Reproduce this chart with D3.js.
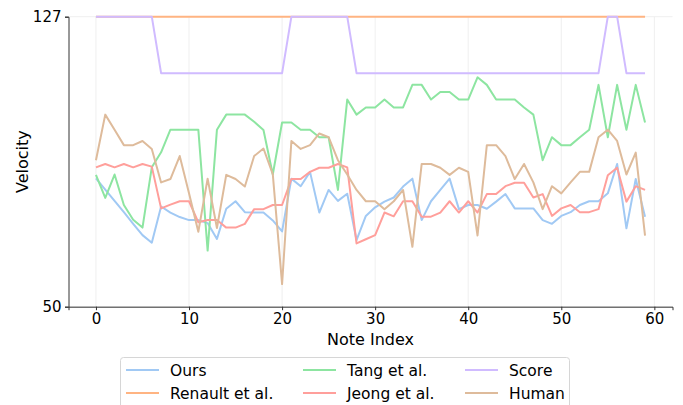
<!DOCTYPE html>
<html>
<head>
<meta charset="utf-8">
<script src="https://cdn.jsdelivr.net/npm/d3@7"></script>
<style>
  body { margin: 0; background: #fff; }
  svg { font-family: "DejaVu Sans", sans-serif; }
</style>
</head>
<body>
<div id="chart"></div>
<script>
// note velocities per method
const ours = [84.1, 81.1, 78.1, 75.1, 72.0, 69.0, 67.0, 76.6, 75.0, 73.8, 73.0, 73.0, 72.2, 68.0, 76.0, 78.0, 75.1, 75.0, 75.0, 72.9,
  70.0, 84.0, 82.0, 85.8, 75.0, 81.0, 78.1, 80.0, 67.7, 74.1, 76.4, 77.9, 79.0, 81.9, 84.0, 73.0, 78.0, 81.0, 84.0, 75.9,
  77.0, 77.0, 76.0, 77.9, 79.9, 76.1, 76.1, 76.1, 73.0, 72.0, 74.1, 75.1, 77.0, 78.0, 78.0, 80.1, 87.9, 70.8, 83.9, 73.9];
const renault = d3.range(60).map(() => 127);
const tang = [85.0, 78.9, 85.1, 77.0, 73.1, 71.0, 87.0, 91.0, 97.0, 97.0, 97.0, 97.0, 64.9, 97.0, 101.0, 101.0, 101.0, 99.1, 96.9, 85.1,
  98.9, 98.9, 97.0, 97.0, 95.0, 95.0, 81.0, 105.0, 101.0, 102.9, 102.9, 105.0, 102.9, 102.9, 108.9, 108.9, 105.0, 107.0, 107.0, 105.0,
  105.0, 110.9, 108.9, 105.0, 105.0, 105.0, 102.9, 101.0, 88.9, 95.0, 92.9, 92.9, 95.0, 97.0, 108.9, 95.0, 108.9, 97.0, 108.9, 98.9];
const jeong = [87.0, 87.9, 87.0, 87.9, 87.0, 87.9, 87.2, 76.1, 77.1, 78.0, 78.0, 72.4, 73.0, 73.0, 71.0, 71.0, 72.0, 75.9, 75.9, 77.0,
  77.0, 83.9, 83.9, 85.8, 86.9, 86.9, 87.9, 87.0, 66.8, 67.9, 69.0, 75.0, 74.0, 78.0, 78.0, 73.9, 73.9, 75.0, 78.0, 75.0,
  78.0, 75.0, 79.9, 79.9, 82.0, 82.9, 82.9, 79.0, 79.9, 74.1, 76.1, 77.0, 75.1, 75.1, 75.9, 84.9, 86.9, 77.9, 82.0, 81.0];
const score = [127, 127, 127, 127, 127, 127, 127, 112, 112, 112, 112, 112, 112, 112, 112, 112, 112, 112, 112, 112,
  112, 127, 127, 127, 127, 127, 127, 127, 112, 112, 112, 112, 112, 112, 112, 112, 112, 112, 112, 112,
  112, 112, 112, 112, 112, 112, 112, 112, 112, 112, 112, 112, 112, 112, 112, 127, 127, 112, 112, 112];
const human = [88.9, 101.0, 97.0, 92.9, 92.9, 94.0, 91.9, 83.0, 83.9, 90.0, 80.1, 69.9, 84.0, 70.9, 85.0, 83.9, 81.9, 90.0, 92.0, 85.2,
  56.0, 94.0, 91.9, 92.9, 96.0, 95.0, 88.9, 85.1, 81.0, 78.0, 78.0, 75.9, 78.0, 81.0, 65.9, 87.9, 87.9, 86.9, 85.0, 86.9,
  85.8, 68.9, 92.9, 92.9, 90.0, 83.9, 87.9, 83.0, 75.9, 82.0, 80.1, 83.0, 85.8, 85.8, 95.0, 97.0, 94.0, 85.1, 90.9, 68.9];

const seriesNames = ["Ours", "Renault et al.", "Tang et al.", "Jeong et al.", "Score", "Human"];
const seriesValues = [ours, renault, tang, jeong, score, human];
const colors = ["#a1c9f4", "#ffb482", "#8de5a1", "#ff9f9b", "#d0bbff", "#debb9b"];
const xTicks = [0, 10, 20, 30, 40, 50, 60];
const yTicks = [50, 127];

const width = 683, height = 405;
const margin = { left: 68.5, right: 10.5, top: 16.7, bottom: 98.3 };

const svg = d3.select("#chart").append("svg")
  .attr("width", width).attr("height", height);

const x = d3.scaleLinear().domain([-2.95, 61.95]).range([margin.left, width - margin.right]);
const y = d3.scaleLinear().domain([50, 127]).range([height - margin.bottom, margin.top]);

// grid
svg.append("g").selectAll("line").data(xTicks).join("line")
  .attr("x1", d => x(d)).attr("x2", d => x(d))
  .attr("y1", y(50)).attr("y2", y(127))
  .attr("stroke", "#ebebeb").attr("stroke-width", 0.8);
svg.append("g").selectAll("line").data(yTicks).join("line")
  .attr("x1", x(-2.95)).attr("x2", x(61.95))
  .attr("y1", d => y(d)).attr("y2", d => y(d))
  .attr("stroke", "#ebebeb").attr("stroke-width", 0.8);

// lines
const line = d3.line().x((d, i) => x(i)).y(d => y(d));
svg.append("g").selectAll("path").data(seriesValues).join("path")
  .attr("d", line)
  .attr("fill", "none")
  .attr("stroke", (d, i) => colors[i])
  .attr("stroke-width", 2)
  .attr("stroke-linejoin", "round");

// axes
const xAxis = svg.append("g")
  .attr("transform", `translate(0,${y(50)})`)
  .call(d3.axisBottom(x).tickValues(xTicks).tickSize(3.5).tickPadding(3.5));
const yAxis = svg.append("g")
  .attr("transform", `translate(${x(-2.95)},0)`)
  .call(d3.axisLeft(y).tickValues(yTicks).tickSize(3.5).tickPadding(3.5));
[xAxis, yAxis].forEach(a => {
  a.selectAll("text").attr("font-size", 15).attr("fill", "#000").attr("font-family", "DejaVu Sans");
  a.selectAll("path, line").attr("stroke", "#333").attr("stroke-width", 1);
});

svg.append("text")
  .attr("x", (margin.left + width - margin.right) / 2)
  .attr("y", 345)
  .attr("text-anchor", "middle")
  .attr("font-size", 16)
  .text("Note Index");
svg.append("text")
  .attr("transform", `translate(28,${(y(50) + y(127)) / 2}) rotate(-90)`)
  .attr("text-anchor", "middle")
  .attr("font-size", 16)
  .text("Velocity");

// legend, 3 columns filled column-wise
const legend = svg.append("g");
legend.append("rect")
  .attr("x", 120.5).attr("y", 357.5)
  .attr("width", 449).attr("height", 60)
  .attr("rx", 3)
  .attr("fill", "#fff").attr("fill-opacity", 0.8)
  .attr("stroke", "#d6d6d6");
const colX = [126, 303, 465];
const rowY = [370, 393];
const item = legend.selectAll("g.item").data(seriesNames).join("g")
  .attr("class", "item")
  .attr("transform", (d, i) => `translate(${colX[Math.floor(i / 2)]},${rowY[i % 2]})`);
item.append("line")
  .attr("x1", 0).attr("x2", 33)
  .attr("stroke", (d, i) => colors[i]).attr("stroke-width", 2);
item.append("text")
  .attr("x", 44).attr("y", 5.5)
  .attr("font-size", 15.5)
  .text(d => d);
</script>
</body>
</html>
